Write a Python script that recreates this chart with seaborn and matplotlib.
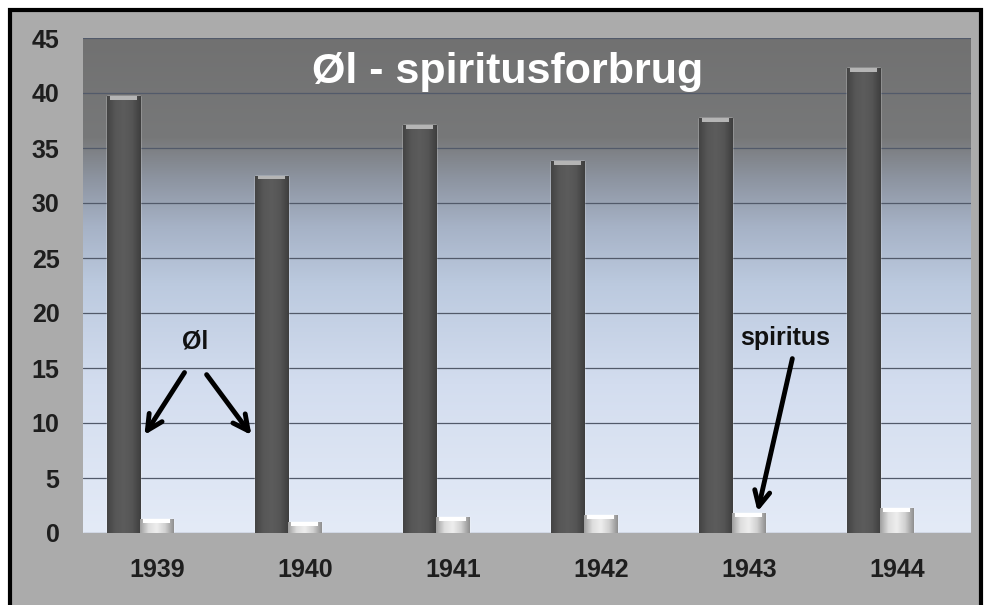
import numpy as np
import pandas as pd
import seaborn as sns
import matplotlib.pyplot as plt
from matplotlib.colors import LinearSegmentedColormap
from matplotlib.patches import Rectangle

years = ['1939', '1940', '1941', '1942', '1943', '1944']
ol = [39.7, 32.5, 37.1, 33.8, 37.7, 42.3]
spiritus = [1.3, 1.0, 1.45, 1.6, 1.8, 2.25]
yticks = [0, 5, 10, 15, 20, 25, 30, 35, 40, 45]

df = pd.DataFrame({'year': years * 2,
                   'value': ol + spiritus,
                   'type': ['Øl'] * 6 + ['spiritus'] * 6})

sns.set_style('white')
plt.rcParams['font.family'] = ['Liberation Sans', 'DejaVu Sans']

fig = plt.figure(figsize=(9.85, 6.05), dpi=100)
fig.patch.set_facecolor('white')
# grey panel with black frame
fig.add_artist(Rectangle((10 / 985, -0.01), 971 / 985, 1 - 10 / 605 + 0.01,
                         transform=fig.transFigure, facecolor='#ababab',
                         edgecolor='black', linewidth=3, zorder=-10))

ax = fig.add_axes([83 / 985, 1 - 533 / 605, 888 / 985, 495 / 605])

# background gradient of the plot area
bg = LinearSegmentedColormap.from_list('bg', [
    (0.0, '#e4ebf7'), (0.3, '#d3ddef'), (0.5, '#bccadf'),
    (0.62, '#a6b2c6'), (0.72, '#8c939f'), (0.8, '#777879'), (1.0, '#717171')])
ax.imshow(np.linspace(0, 1, 256).reshape(-1, 1), extent=[0, 1, 0, 1],
          transform=ax.transAxes, aspect='auto', cmap=bg, origin='lower', zorder=-5)

sns.barplot(data=df, x='year', y='value', hue='type', palette=['#565656', '#d6d6d6'],
            width=0.446, gap=0, saturation=1, legend=False, ax=ax, zorder=3)

# cylinder-like shading on every bar
shade_dark = LinearSegmentedColormap.from_list('sd', ['#444444', '#575757', '#5c5c5c', '#555555', '#3e3e3e'])
shade_light = LinearSegmentedColormap.from_list('sl', ['#a0a0a0', '#dedede', '#eeeeee', '#d0d0d0', '#909090'])
for k, p in enumerate(list(ax.patches)):
    x0, w, h = p.get_x(), p.get_width(), p.get_height()
    cm = shade_dark if k < len(years) else shade_light
    im = ax.imshow(np.linspace(0, 1, 64).reshape(1, -1), extent=[x0, x0 + w, 0, h],
                   aspect='auto', cmap=cm, zorder=4)
    im.set_clip_path(p)
    ax.add_patch(Rectangle((x0 + w * 0.08, h - 0.35), w * 0.84, 0.35,
                           facecolor='#b5b5b5' if k < len(years) else '#ffffff',
                           edgecolor='none', zorder=5))

off = 0.115
ax.set_xlim(-0.5 + off, len(years) - 0.5 + off)
ax.set_ylim(0, 45)
ax.set_xticks(np.arange(len(years)) + off, years)
ax.set_xticks(np.arange(len(years) - 1) + 0.5 + off, minor=True)
ax.set_yticks(yticks)
ax.grid(axis='y', color='#525a6a', linewidth=0.9, zorder=1)
ax.set_axisbelow(True)
for s in ax.spines.values():
    s.set_visible(False)
ax.set_xlabel('')
ax.set_ylabel('')
ax.tick_params(axis='x', which='major', length=0, pad=18, labelsize=18, labelcolor='#1e1e1e')
ax.tick_params(axis='x', which='minor', length=6, color='#8c8c8c', width=1)
ax.tick_params(axis='y', length=5, color='#8c8c8c', pad=12, labelsize=18, labelcolor='#1e1e1e')
for lab in ax.get_xticklabels() + ax.get_yticklabels():
    lab.set_fontweight('bold')

fig.text(508 / 985, 1 - 72 / 605, 'Øl - spiritusforbrug', color='white', fontsize=31,
         fontweight='bold', ha='center', va='center')

arrow = dict(arrowstyle='->,head_length=1.1,head_width=0.55', color='black', lw=3.5)
ax.text(0.372, 17.4, 'Øl', fontsize=18, fontweight='bold', ha='center', va='center', color='#111111')
ax.annotate('', xy=(0.02, 8.7), xytext=(0.311, 14.8), arrowprops=arrow, zorder=6)
ax.annotate('', xy=(0.764, 8.7), xytext=(0.439, 14.6), arrowprops=arrow, zorder=6)
ax.text(4.358, 17.7, 'spiritus', fontsize=18, fontweight='bold', ha='center', va='center', color='#111111')
ax.annotate('', xy=(4.169, 1.7), xytext=(4.412, 16.1), arrowprops=arrow, zorder=6)

fig.savefig('out.png', dpi=100)
